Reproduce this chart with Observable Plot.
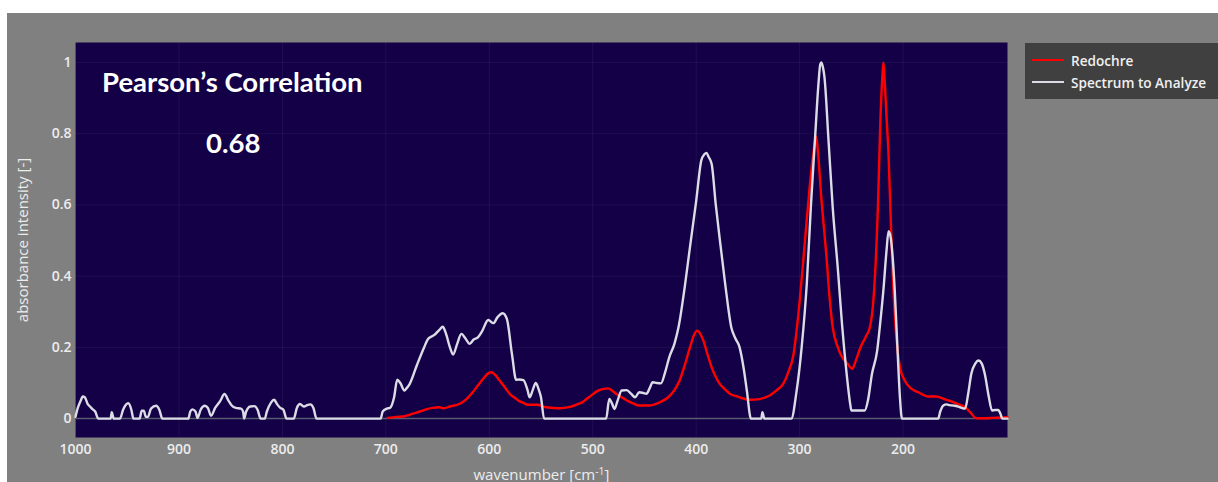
<!DOCTYPE html>
<html>
<head>
<meta charset="utf-8">
<script src="https://cdn.jsdelivr.net/npm/d3@7"></script>
<script src="https://cdn.jsdelivr.net/npm/@observablehq/plot@0.6"></script>
<style>
  html, body { margin: 0; padding: 0; background: #fff; }
  #panel { position: absolute; left: 7px; top: 13px; width: 1211px; height: 469px; background: #808080; overflow: hidden; }
  .ann { position: absolute; color: #fff; font-family: Lato, "Open Sans", sans-serif; font-weight: 700; font-size: 27.5px; line-height: 27.5px; white-space: nowrap; }
  #legend { position: absolute; left: 1018px; top: 30px; width: 200px; height: 56px; background: #404040; font-family: "Open Sans", sans-serif; font-weight: 600; font-size: 13.6px; color: #f0f0f0; }
  .li { position: absolute; left: 7px; height: 16px; display: flex; align-items: center; white-space: nowrap; }
  .sw { width: 32px; height: 2.5px; margin-right: 7px; flex: none; }
</style>
</head>
<body>
<div id="panel">
  <div id="chart"></div>
  <div class="ann" id="t1" style="left:95px;top:55px;">Pearson’s Correlation</div>
  <div class="ann" id="t2" style="left:199px;top:116px;">0.68</div>
  <div id="legend">
    <div class="li" style="top:9px;"><div class="sw" style="background:#ff0000"></div><span>Redochre</span></div>
    <div class="li" style="top:31px;"><div class="sw" style="background:#dcdce6"></div><span>Spectrum to Analyze</span></div>
  </div>
</div>
<script>
const xTicks = [1000, 900, 800, 700, 600, 500, 400, 300, 200];
const yTicks = [0, 0.2, 0.4, 0.6, 0.8, 1];

const spectrumWn = [1000,998,995,993,991,988,986,983,981,978,966,965,963,957,954,949,946,944,938,936,934,932,930,927,922,919,916,
  891,889,887,884,882,879,875,872,869,865,860,856,852,849,845,840,838,837,835,831,827,824,821,817,815,811,808,805,802,799,796,
  789,786,783,779,776,773,770,767,705,703,699,696,692,689,686,682,680,677,670,663,659,653,648,645,642,638,635,631,627,623,619,
  615,611,607,601,596,592,587,583,578,574,571,567,563,561,558,555,552,550,547,487,484,481,479,476,472,467,463,459,455,451,448,
  445,442,438,434,430,426,421,417,411,406,400,395,392,390,388,385,381,377,372,366,362,358,354,351,347,337,336,334,308,303,298,
  293,289,285,282,280,279,277,276,272,268,263,259,255,251,250,237,234,230,225,222,219,216,214,212,210,208,205,203,201,166,164,
  161,158,155,150,145,140,137,134,130,127,124,121,117,114,111,108,106,104,99];
const spectrumVal = [0.005,0.028,0.05,0.062,0.06,0.04,0.034,0.025,0.02,0,0,0.018,0,0,0.025,0.043,0.025,0,0,0.022,0.022,0.005,0.005,0.028,0.036,0.025,0,
  0,0.02,0.026,0.02,0.002,0.025,0.036,0.03,0.008,0.03,0.05,0.069,0.05,0.037,0.03,0.028,0.02,0,0.02,0.034,0.035,0.025,0,0,0.02,0.045,0.053,0.04,0.03,0.025,0,
  0,0.03,0.041,0.034,0.038,0.04,0.03,0,0,0.02,0.028,0.03,0.06,0.109,0.1,0.079,0.085,0.097,0.15,0.2,0.224,0.235,0.25,0.258,0.24,0.2,0.18,0.21,0.238,0.225,0.21,
  0.222,0.228,0.245,0.277,0.268,0.285,0.296,0.28,0.18,0.109,0.11,0.108,0.08,0.06,0.08,0.1,0.08,0.06,0,0,0.055,0.04,0.027,0.05,0.079,0.08,0.07,0.06,0.074,0.072,0.07,
  0.085,0.102,0.1,0.099,0.13,0.172,0.21,0.257,0.37,0.481,0.61,0.725,0.742,0.746,0.735,0.715,0.6,0.5,0.38,0.256,0.225,0.2,0.14,0.079,0,0,0.018,0,0,0.075,0.2,
  0.38,0.6,0.79,0.93,0.995,1.0,0.98,0.96,0.78,0.594,0.42,0.266,0.14,0.04,0.023,0.023,0.05,0.126,0.191,0.27,0.36,0.47,0.526,0.51,0.453,0.36,0.173,0.06,0,0,0.02,
  0.037,0.04,0.038,0.036,0.032,0.028,0.07,0.126,0.155,0.163,0.155,0.126,0.06,0.023,0.024,0.024,0.015,0,0];

const redWn = [698,690,683,678,674,667,661,655,648,644,638,629,622,616,611,606,601,598,594,590,585,580,575,572,567,563,554,545,532,522,516,510,506,500,496,490,485,481,477,472,467,461,455,445,435,427,421,416,411,406,402,399,396,393,389,385,381,377,372,367,360,355,348,340,333,329,322,316,311,306,302,297,293,289,286,284,282,279,276,274,271,268,263,259,254,249,246,241,236,232,229,227,224,222,220,219,218,216,214,212,210,207,203,198,192,184,176,168,160,152,146,140,135,129,120,113,105,99];
const redVal = [0.002,0.005,0.006,0.01,0.014,0.02,0.026,0.03,0.032,0.029,0.034,0.041,0.055,0.074,0.093,0.111,0.127,0.13,0.122,0.107,0.088,0.069,0.058,0.051,0.044,0.039,0.039,0.032,0.029,0.033,0.039,0.046,0.055,0.068,0.077,0.083,0.085,0.078,0.069,0.06,0.051,0.043,0.037,0.037,0.046,0.06,0.08,0.107,0.15,0.2,0.235,0.247,0.238,0.219,0.18,0.144,0.117,0.097,0.082,0.069,0.062,0.057,0.053,0.054,0.06,0.065,0.08,0.097,0.13,0.178,0.27,0.425,0.56,0.687,0.76,0.792,0.74,0.62,0.52,0.454,0.34,0.257,0.2,0.173,0.155,0.14,0.16,0.201,0.23,0.257,0.32,0.407,0.62,0.828,0.96,1.0,0.96,0.85,0.74,0.57,0.407,0.25,0.145,0.105,0.084,0.072,0.062,0.062,0.055,0.047,0.04,0.033,0.018,0.001,0.001,0.002,0.003,0.004];

const spectrum = spectrumWn.map((w, i) => ({wn: w, v: spectrumVal[i]}));
const red = redWn.map((w, i) => ({wn: w, v: redVal[i]}));

const chart = Plot.plot({
  width: 1211,
  height: 469,
  marginLeft: 68,
  marginTop: 29,
  marginRight: 211,
  marginBottom: 45,
  style: {background: "transparent", color: "#ececec", fontFamily: "'Open Sans', sans-serif", fontSize: "14px"},
  x: {domain: [1000, 99]},
  y: {domain: [-0.053, 1.056]},
  marks: [
    Plot.frame({fill: "#130046", stroke: null}),
    Plot.gridX(xTicks, {stroke: "#ffffff", strokeOpacity: 0.06}),
    Plot.gridY(yTicks, {stroke: "#ffffff", strokeOpacity: 0.05}),
    Plot.ruleY([0], {stroke: "#5a5a70", strokeWidth: 1.5}),
    Plot.line(red, {x: "wn", y: "v", stroke: "#ff0000", strokeWidth: 2.4, curve: "monotone-x"}),
    Plot.line(spectrum, {x: "wn", y: "v", stroke: "#dcdce6", strokeWidth: 2.4, curve: "monotone-x"}),
    Plot.axisX(xTicks, {tickSize: 0, tickPadding: 7, tickFormat: d => String(d), fontWeight: 600, fontSize: 14, label: "wavenumber [cm⁻¹]", labelAnchor: "center", labelOffset: 42, labelArrow: "none"}),
    Plot.axisY(yTicks, {tickSize: 0, tickPadding: 4, tickFormat: d => String(d), fontWeight: 600, fontSize: 14, label: "absorbance intensity [-]", labelAnchor: "center", labelOffset: 58, labelArrow: "none"})
  ]
});
// superscript for the x-axis label unit
const labText = chart.querySelector('g[aria-label="x-axis label"] text');
if (labText) {
  const ns = "http://www.w3.org/2000/svg";
  labText.textContent = "wavenumber [cm";
  const sup = document.createElementNS(ns, "tspan");
  sup.setAttribute("dy", "-0.45em");
  sup.setAttribute("font-size", "0.7em");
  sup.textContent = "-1";
  const close = document.createElementNS(ns, "tspan");
  close.setAttribute("dy", "0.315em");
  close.textContent = "]";
  labText.appendChild(sup);
  labText.appendChild(close);
  labText.setAttribute("font-size", "15");
  labText.setAttribute("font-weight", "normal");
}
const yLab = chart.querySelector('g[aria-label="y-axis label"] text');
if (yLab) { yLab.setAttribute("font-size", "15"); yLab.setAttribute("font-weight", "normal"); }
document.getElementById("chart").appendChild(chart);
</script>
</body>
</html>
